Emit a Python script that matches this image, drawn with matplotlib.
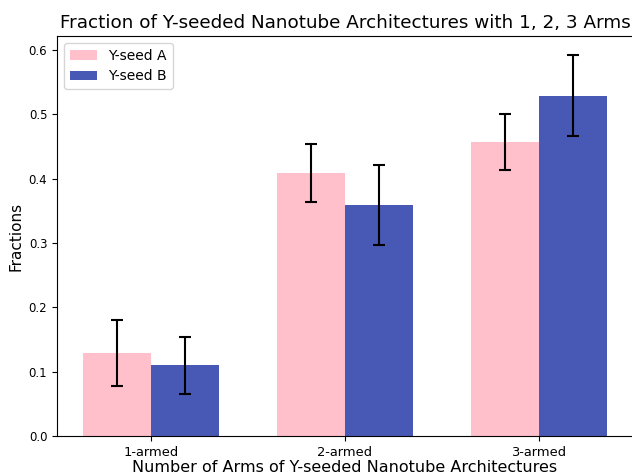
import numpy as np
import matplotlib
matplotlib.use("Agg")
import matplotlib.pyplot as plt

# fractions of Y-seeded nanotube architectures by number of arms
labels = ["1-armed", "2-armed", "3-armed"]
seed_a = [0.129, 0.409, 0.457]
seed_b = [0.110, 0.359, 0.529]
err_a = [0.051, 0.045, 0.043]
err_b = [0.044, 0.062, 0.063]

x = np.arange(len(labels))
w = 0.35

fig = plt.figure(figsize=(6.32, 4.75), dpi=100)
ax = fig.add_axes([57/632, 1-436/475, 576/632, 400/475])

ax.bar(x, seed_a, w, yerr=err_a, capsize=4, color="pink", label="Y-seed A",
       error_kw=dict(elinewidth=1.5, capthick=1.5))
ax.bar(x + w, seed_b, w, yerr=err_b, capsize=4, color="#4858b5", label="Y-seed B",
       error_kw=dict(elinewidth=1.5, capthick=1.5))

ax.set_xticks(x + w/2)
ax.set_xticklabels(labels, fontsize=9.4)
ax.tick_params(axis="y", labelsize=8.5)
ax.set_ylabel("Fractions", fontsize=11)
ax.set_xlabel("Number of Arms of Y-seeded Nanotube Architectures", fontsize=11.5, labelpad=1)
ax.set_title("Fraction of Y-seeded Nanotube Architectures with 1, 2, 3 Arms", fontsize=13.2)
ax.legend(loc="upper left", fontsize=10)

fig.savefig("out.png", dpi=100)
